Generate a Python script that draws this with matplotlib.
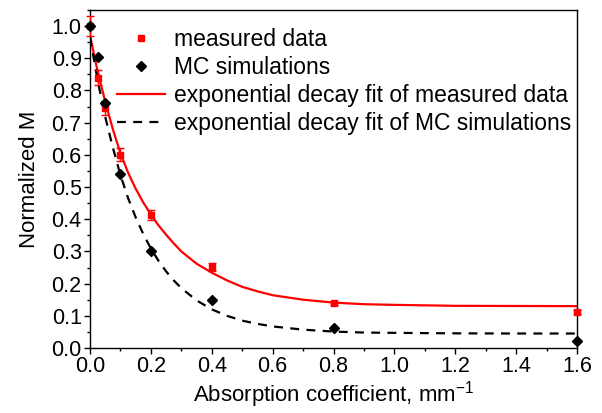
import matplotlib
matplotlib.use("Agg")
import matplotlib.pyplot as plt
from matplotlib.lines import Line2D
from matplotlib.ticker import MultipleLocator

plt.rcParams["font.family"] = ["Liberation Sans", "DejaVu Sans"]
plt.rcParams["mathtext.fontset"] = "custom"
plt.rcParams["mathtext.rm"] = "Liberation Sans"

# measured data (red squares with error bars)
x_meas = [0.0, 0.025, 0.05, 0.1, 0.2, 0.4, 0.8, 1.6]
y_meas = [1.0, 0.84, 0.745, 0.60, 0.413, 0.251, 0.139, 0.112]
err_meas = [0.03, 0.023, 0.02, 0.02, 0.015, 0.013, 0.005, 0.007]

# MC simulations (black diamonds)
x_mc = [0.0, 0.025, 0.05, 0.1, 0.2, 0.4, 0.8, 1.6]
y_mc = [1.0, 0.905, 0.762, 0.54, 0.30, 0.15, 0.063, 0.022]

# exponential decay fits
x_fit = [0.0, 0.025, 0.05, 0.075, 0.1, 0.125, 0.15, 0.175, 0.2, 0.225, 0.25, 0.275,
         0.3, 0.35, 0.4, 0.45, 0.5, 0.55, 0.6, 0.7, 0.8, 0.9, 1.0, 1.2, 1.4, 1.6]
y_fit_meas = [0.97, 0.86, 0.765, 0.68, 0.605, 0.545, 0.495, 0.452, 0.415, 0.381,
              0.352, 0.325, 0.300, 0.262, 0.234, 0.210, 0.190, 0.176, 0.164, 0.150,
              0.141, 0.136, 0.134, 0.131, 0.1305, 0.130]
y_fit_mc = [0.965, 0.832, 0.718, 0.623, 0.537, 0.466, 0.406, 0.354, 0.309, 0.271,
            0.238, 0.210, 0.186, 0.148, 0.120, 0.100, 0.085, 0.075, 0.067, 0.057,
            0.051, 0.048, 0.047, 0.0455, 0.045, 0.045]

labels = ["measured data", "MC simulations",
          "exponential decay fit of measured data",
          "exponential decay fit of MC simulations"]
red = "#ff0000"

fig = plt.figure(figsize=(6.02, 4.13), dpi=100)
ax = fig.add_axes([0.1495, 0.1574, 0.809, 0.8184])

ax.plot(x_fit, y_fit_meas, color=red, lw=1.6)
ax.plot(x_fit, y_fit_mc, color="black", lw=1.6, dashes=(4, 3.3))
ax.errorbar(x_meas, y_meas, yerr=err_meas, fmt="s", color=red, ms=4.8,
            capsize=3, elinewidth=1.0, capthick=1.0, zorder=3, clip_on=False)
ax.plot(x_mc, y_mc, "D", color="black", ms=4.8, zorder=4, clip_on=False)

ax.set_xlim(0, 1.6)
ax.set_ylim(0, 1.05)
ax.xaxis.set_major_locator(MultipleLocator(0.2))
ax.xaxis.set_minor_locator(MultipleLocator(0.1))
ax.yaxis.set_major_locator(MultipleLocator(0.1))
ax.yaxis.set_minor_locator(MultipleLocator(0.05))
ax.xaxis.set_major_formatter(lambda v, p: f"{v:.1f}")
ax.yaxis.set_major_formatter(lambda v, p: f"{v:.1f}")
ax.tick_params(which="major", direction="out", length=4, width=1, labelsize=15.5, pad=2)
ax.tick_params(which="minor", direction="out", length=2.5, width=1)
for s in ax.spines.values():
    s.set_linewidth(1.0)

ax.set_xlabel("Absorption coefficient, mm$^{\\mathregular{-1}}$", fontsize=16, labelpad=1)
ax.set_ylabel("Normalized M", fontsize=16, labelpad=8)

handles = [
    Line2D([], [], ls="none", marker="s", color=red, ms=4.8),
    Line2D([], [], ls="none", marker="D", color="black", ms=4.8),
    Line2D([], [], color=red, lw=1.6),
    Line2D([], [], color="black", lw=1.6, dashes=(4, 3.3)),
]
ax.legend(handles, labels, loc="upper left", bbox_to_anchor=(0.055, 0.947),
          frameon=False, fontsize=16.5, handlelength=2.1, handletextpad=0.4,
          labelspacing=0.22, borderpad=0, borderaxespad=0)

fig.savefig("out.png", dpi=100)
